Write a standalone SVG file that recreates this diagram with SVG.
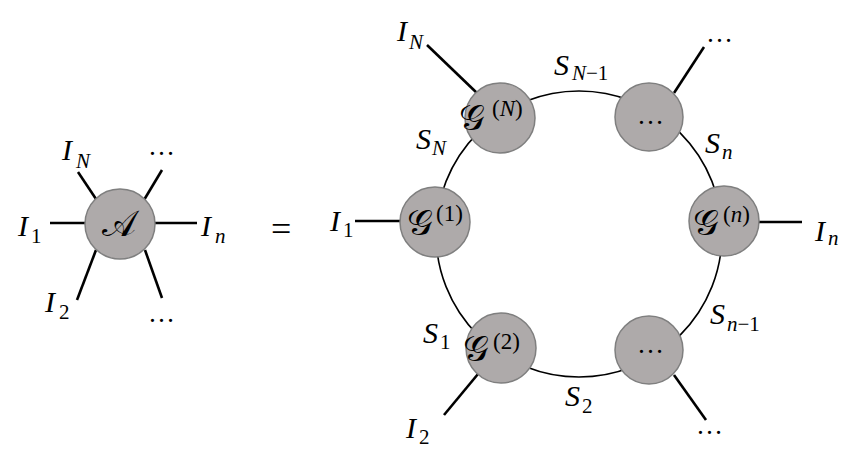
<svg xmlns="http://www.w3.org/2000/svg" width="854" height="460" viewBox="0 0 854 460">
<style>
.node{fill:#aeaaaa;stroke:#7f7f7f;stroke-width:1.5}
.leg{stroke:#000;stroke-width:2.6;fill:none}
.ring{stroke:#000;stroke-width:1.6;fill:none}
.m{font-family:"Liberation Serif",serif;font-style:italic;font-size:30px;fill:#000}
.s{font-size:21px}
.u{font-style:normal}
.cal{font-family:"DejaVu Sans",serif;font-style:normal;font-size:36px;fill:#000}
.sup{font-family:"Liberation Serif",serif;font-size:23px;fill:#000}
.dots{font-family:"Liberation Serif",serif;font-size:27px;fill:#000}
</style>
<rect width="854" height="460" fill="#fff"/>
<g id="connectors">
<line class="leg" x1="50" y1="223" x2="86" y2="223"/>
<line class="leg" x1="155" y1="223" x2="197" y2="223"/>
<line class="leg" x1="78" y1="172" x2="96" y2="199"/>
<line class="leg" x1="162" y1="170" x2="144" y2="200"/>
<line class="leg" x1="96" y1="250" x2="77" y2="300"/>
<line class="leg" x1="145" y1="250" x2="162" y2="298"/>
<circle class="ring" cx="579" cy="234" r="143"/>
<line class="leg" x1="427" y1="45" x2="478" y2="94"/>
<line class="leg" x1="674" y1="93" x2="704" y2="47"/>
<line class="leg" x1="355" y1="221" x2="401" y2="221"/>
<line class="leg" x1="758" y1="222" x2="802" y2="222"/>
<line class="leg" x1="478" y1="374" x2="444" y2="415"/>
<line class="leg" x1="674" y1="375" x2="706" y2="420"/>
</g>
<g id="A">
<circle class="node" cx="120" cy="224" r="35"/>
<text class="cal" x="102" y="236">𝒜</text>
</g>
<g id="G1">
<circle class="node" cx="435" cy="222" r="35"/>
<text class="cal" x="407" y="235">𝒢<tspan class="sup" x="436" y="221">(1)</tspan></text>
</g>
<g id="GN">
<circle class="node" cx="500" cy="118" r="35"/>
<text class="cal" x="459" y="130">𝒢<tspan class="sup" x="492" y="116">(<tspan font-style="italic">N</tspan>)</tspan></text>
</g>
<g id="Gtr">
<circle class="node" cx="649" cy="117" r="34"/>
<text class="dots" x="637" y="124">…</text>
</g>
<g id="Gn">
<circle class="node" cx="724" cy="221" r="35"/>
<text class="cal" x="693" y="235">𝒢<tspan class="sup" x="723" y="222">(<tspan font-style="italic">n</tspan>)</tspan></text>
</g>
<g id="Gbr">
<circle class="node" cx="649" cy="350" r="34"/>
<text class="dots" x="637" y="353">…</text>
</g>
<g id="G2">
<circle class="node" cx="501" cy="348" r="35"/>
<text class="cal" x="463" y="361">𝒢<tspan class="sup" x="493" y="349">(2)</tspan></text>
</g>
<g id="labels">
<text class="m" x="62" y="160">I<tspan class="s" x="76" y="168">N</tspan></text>
<text class="dots" x="148" y="155">…</text>
<text class="m" x="18" y="236">I<tspan class="s u" x="31" y="243">1</tspan></text>
<text class="m" x="201" y="236">I<tspan class="s" x="215" y="243">n</tspan></text>
<text class="m" x="45" y="312">I<tspan class="s u" x="59" y="319">2</tspan></text>
<text class="dots" x="148" y="322">…</text>
<text font-family="Liberation Serif,serif" font-size="36" x="271" y="241">=</text>
<text class="m" x="397" y="41">I<tspan class="s" x="409" y="49">N</tspan></text>
<text class="m" x="554" y="75">S<tspan class="s" x="572" y="80">N<tspan class="u">−1</tspan></tspan></text>
<text class="dots" x="706" y="42">…</text>
<text class="m" x="416" y="149">S<tspan class="s" x="432" y="155">N</tspan></text>
<text class="m" x="705" y="153">S<tspan class="s" x="722" y="159">n</tspan></text>
<text class="m" x="330" y="231">I<tspan class="s u" x="343" y="237">1</tspan></text>
<text class="m" x="815" y="241">I<tspan class="s" x="828" y="245">n</tspan></text>
<text class="m" x="710" y="324">S<tspan class="s" x="727" y="331">n<tspan class="u">−1</tspan></tspan></text>
<text class="m" x="423" y="343">S<tspan class="s u" x="440" y="349">1</tspan></text>
<text class="m" x="565" y="406">S<tspan class="s u" x="582" y="413">2</tspan></text>
<text class="m" x="406" y="438">I<tspan class="s u" x="419" y="444">2</tspan></text>
<text class="dots" x="696" y="434">…</text>
</g>
</svg>
